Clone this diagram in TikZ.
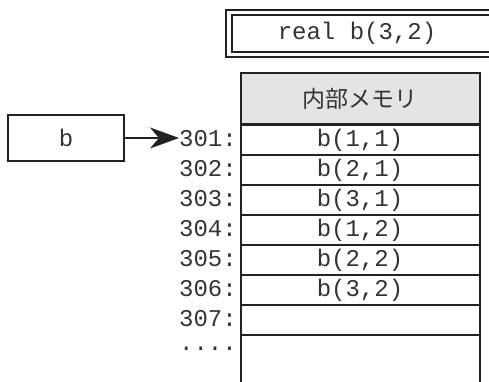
\documentclass[tikz,border=0pt]{standalone}
\usepackage{fontspec}
\setmonofont{Liberation Mono}
\newfontfamily\jpfont{Noto Sans CJK JP}
\usetikzlibrary{arrows.meta}
\definecolor{ink}{HTML}{222222}
\definecolor{txt}{HTML}{333333}
\definecolor{hdr}{HTML}{E4E4E4}
\begin{document}
\begin{tikzpicture}[x=1pt,y=-1pt,
  mono/.style={text=txt, font=\ttfamily\fontsize{24}{24}\selectfont},
  cell/.style={draw=ink, line width=2pt, minimum width=239pt, inner sep=0pt, mono},
  addr/.style={anchor=east, inner sep=0pt, mono},
  framebox/.style={draw=ink, line width=1.2pt}]
\useasboundingbox (0,0) rectangle (489,382);
% top double box
\draw[framebox] (495,10) -- (226,10) -- (226,57) -- (495,57);
\draw[framebox] (495,15) -- (232,15) -- (232,52) -- (495,52);
\node[mono] (decl) at (357,33) {real b(3,2)};
% memory table
\node[cell, fill=hdr, minimum height=51pt, font=\jpfont\fontsize{23}{23}\selectfont] (h) at (360,99) {内部メモリ};
\node[cell, minimum height=30pt] (r1) at (360,140) {b(1,1)};
\node[cell, minimum height=30pt] (r2) at (360,170) {b(2,1)};
\node[cell, minimum height=30pt] (r3) at (360,200) {b(3,1)};
\node[cell, minimum height=30pt] (r4) at (360,230) {b(1,2)};
\node[cell, minimum height=30pt] (r5) at (360,260) {b(2,2)};
\node[cell, minimum height=30pt] (r6) at (360,290) {b(3,2)};
\node[cell, minimum height=30pt] (r7) at (360,320) {};
\node[cell, minimum height=60pt] (r8) at (360,365) {};
% addresses
\node[addr] (a1) at (237,139) {301:};
\node[addr] (a2) at (237,169) {302:};
\node[addr] (a3) at (237,199) {303:};
\node[addr] (a4) at (237,229) {304:};
\node[addr] (a5) at (237,259) {305:};
\node[addr] (a6) at (237,289) {306:};
\node[addr] (a7) at (237,319) {307:};
\node[addr] (a8) at (237,349) {....};
% pointer b
\node[draw=ink, line width=2pt, minimum width=116pt, minimum height=45pt, inner sep=0pt, mono] (b) at (66,138) {b};
\draw[ink, line width=2pt, -{Stealth[length=29pt,width=21pt,inset=9pt]}] (b.east) -- (b.east -| a1.west);
\end{tikzpicture}
\end{document}
